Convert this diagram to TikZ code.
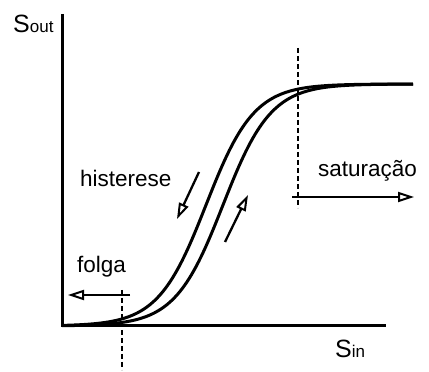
\documentclass[tikz,border=0pt]{standalone}
\usepackage{fontspec}
\setmainfont{Liberation Sans}
\usetikzlibrary{arrows.meta}
\begin{document}
\begin{tikzpicture}[x=1pt,y=1pt,
  axis/.style={line width=3pt},
  curve/.style={line width=3pt},
  guide/.style={line width=2.2pt, dash pattern=on 5pt off 3pt},
  openarrow/.style={line width=2.3pt, -{Triangle[open, length=16pt, width=10pt, line width=2pt]}},
  lbl/.style={inner sep=0pt, anchor=base west, font=\fontsize{22.5}{26}\selectfont}]
\useasboundingbox (0,0) rectangle (429,372);
% axes
\coordinate (origin) at (62,46);
\coordinate (ytop) at (62,358);
\coordinate (xend) at (386,46);
\draw[axis] (ytop) -- (origin) -- (xend);
% curves
\draw[curve] plot[domain=62:413, samples=150] ({\x},{46+242/(1+exp(-(\x-206)/24))});
\draw[curve] plot[domain=62:413, samples=150] ({\x},{46+242/(1+exp(-(\x-223)/24))});
% axis labels
\node[lbl] (sout) at (13,339) {\fontsize{25}{28}\selectfont S\fontsize{17}{20}\selectfont out};
\node[lbl] (sin) at (335,14) {\fontsize{25}{28}\selectfont S\fontsize{17}{20}\selectfont in};
% saturation
\coordinate (d1t) at (298,324);
\coordinate (d1b) at (298,164);
\draw[guide] (d1t) -- (d1b);
\coordinate (s1) at (292,175);
\coordinate (s2) at (414,175);
\draw[openarrow] (s1) -- (s2);
\node[lbl] (sat) at (318,195) {saturação};
% folga
\coordinate (d2t) at (122,82);
\coordinate (d2b) at (122,2);
\draw[guide] (d2t) -- (d2b);
\coordinate (f1) at (130,77);
\coordinate (f2) at (68,77);
\draw[openarrow] (f1) -- (f2);
\node[lbl] (folga) at (77,99) {folga};
% histerese
\coordinate (h1) at (199,200);
\coordinate (h2) at (177,153);
\draw[openarrow] (h1) -- (h2);
\coordinate (h3) at (225,130);
\coordinate (h4) at (248,177);
\draw[openarrow] (h3) -- (h4);
\node[lbl] (hist) at (80,185) {histerese};
\end{tikzpicture}
\end{document}
